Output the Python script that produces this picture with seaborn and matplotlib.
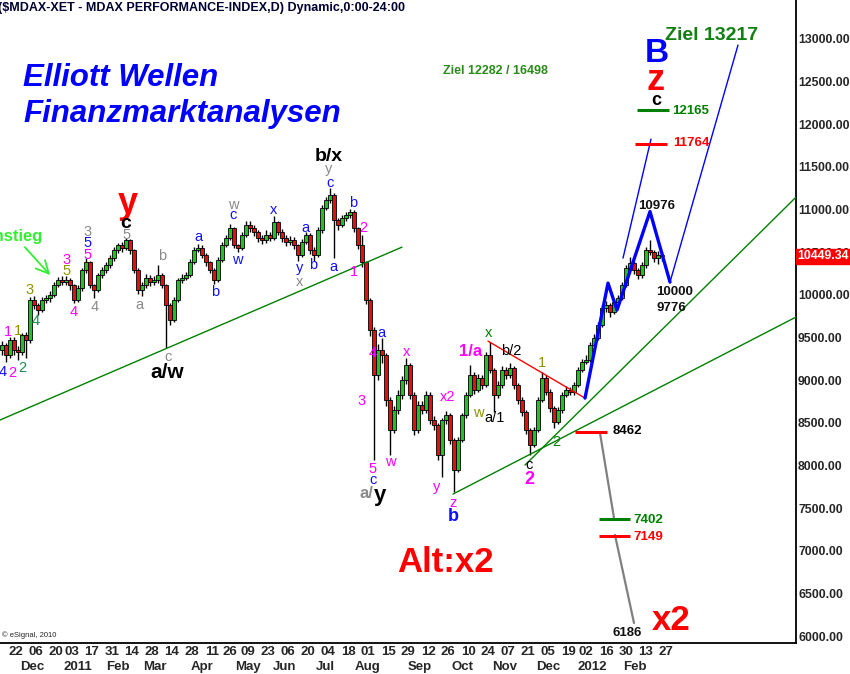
import numpy as np
import pandas as pd
import seaborn as sns
import matplotlib
matplotlib.use("Agg")
import matplotlib.pyplot as plt

# MDAX, candles of two trading days each (Nov 2010 - Feb 2012)
opens = [9350, 9411, 9293, 9469, 9352, 9328, 9528, 9469, 9938, 9879,
         9821, 9938, 9961, 9997, 10114, 10172, 10149, 10172, 10114, 9938,
         10079, 10290, 10383, 10114, 10055, 10231, 10290, 10348, 10430, 10524,
         10583, 10547, 10641, 10524, 10290, 10055, 10114, 10196, 10149, 10172,
         10231, 10114, 9879, 9704, 9938, 10172, 10196, 10231, 10383, 10524,
         10547, 10465, 10383, 10290, 10172, 10407, 10583, 10665, 10782, 10583,
         10547, 10700, 10817, 10782, 10735, 10665, 10641, 10700, 10665, 10852,
         10735, 10665, 10618, 10641, 10583, 10465, 10618, 10700, 10524, 10465,
         10758, 11016, 11110, 11169, 10876, 10817, 10899, 10934, 10969, 10782,
         10583, 10383, 9938, 9586, 9059, 9352, 9293, 8766, 8414, 8649,
         8825, 9000, 9176, 8825, 8414, 8707, 8649, 8825, 8532, 8473,
         8121, 8532, 8590, 8297, 7946, 8297, 8590, 8825, 9059, 8883,
         9024, 8942, 9293, 9118, 8825, 8942, 9118, 9059, 9141, 8942,
         8766, 8625, 8414, 8239, 8414, 8766, 9024, 8860, 8672, 8508,
         8649, 8825, 8883, 8860, 8942, 9118, 9211, 9235, 9411, 9493,
         9645, 9844, 9879, 9797, 9914, 9961, 10114, 10313, 10372, 10290,
         10231, 10348, 10524, 10500, 10430, 10465]
highs = [9460, 9440, 9500, 9500, 9400, 9550, 9560, 9980, 9990, 9900,
         9970, 10000, 10040, 10150, 10210, 10220, 10220, 10200, 10130, 10110,
         10320, 10430, 10400, 10130, 10260, 10330, 10390, 10470, 10560, 10610,
         10620, 10670, 10660, 10540, 10310, 10150, 10240, 10230, 10220, 10350,
         10260, 10130, 9900, 9970, 10200, 10240, 10270, 10420, 10560, 10600,
         10580, 10490, 10400, 10310, 10440, 10620, 10700, 10830, 10800, 10600,
         10740, 10860, 10870, 10820, 10760, 10700, 10760, 10740, 10920, 10870,
         10770, 10700, 10690, 10680, 10600, 10660, 10740, 10720, 10560, 10790,
         11050, 11150, 11250, 11190, 10900, 10940, 10970, 11000, 10990, 10800,
         10700, 10400, 9960, 9620, 9420, 9490, 9320, 8800, 8700, 8880,
         9050, 9260, 9200, 8860, 8760, 8760, 8870, 8860, 8580, 8500,
         8560, 8640, 8620, 8320, 8330, 8620, 8860, 9180, 9090, 9070,
         9060, 9330, 9450, 9140, 8990, 9160, 9150, 9200, 9170, 8970,
         8800, 8650, 8440, 8450, 8800, 9090, 9060, 8890, 8700, 8690,
         8860, 8930, 8920, 8980, 9150, 9250, 9290, 9450, 9540, 9680,
         9880, 9930, 9900, 9950, 10000, 10150, 10350, 10440, 10400, 10320,
         10380, 10560, 10640, 10530, 10510, 10500]
lows = [9300, 9210, 9260, 9300, 9230, 9300, 9260, 9440, 9830, 9760,
        9800, 9900, 9920, 9970, 10090, 10110, 10110, 10060, 9900, 9910,
        10050, 10260, 10080, 9960, 10030, 10200, 10260, 10320, 10400, 10490,
        10500, 10520, 10480, 10250, 10010, 9990, 10080, 10100, 10110, 10140,
        10080, 9380, 9650, 9680, 9910, 10140, 10170, 10210, 10360, 10500,
        10430, 10340, 10250, 10130, 10150, 10380, 10560, 10640, 10550, 10500,
        10520, 10680, 10740, 10690, 10620, 10600, 10610, 10630, 10640, 10700,
        10620, 10570, 10580, 10540, 10400, 10440, 10590, 10480, 10400, 10440,
        10730, 10990, 11080, 10430, 10760, 10790, 10860, 10900, 10740, 10540,
        10330, 9890, 9520, 8060, 9000, 9200, 8700, 8120, 8380, 8600,
        8780, 8960, 8780, 8360, 8380, 8600, 8610, 8490, 8420, 8060,
        7860, 8480, 8250, 7690, 7920, 8270, 8560, 8800, 8840, 8860,
        8900, 8920, 9080, 8630, 8790, 8910, 9010, 9030, 8900, 8720,
        8580, 8370, 8120, 8210, 8390, 8740, 8820, 8630, 8440, 8480,
        8620, 8800, 8820, 8830, 8920, 9090, 9190, 9210, 9390, 9470,
        9620, 9800, 9740, 9770, 9880, 9940, 10090, 10290, 10240, 10190,
        10200, 10320, 10470, 10390, 10360, 10400]
closes = [9411, 9293, 9469, 9352, 9328, 9528, 9469, 9938, 9879, 9821,
          9938, 9961, 9997, 10114, 10172, 10149, 10172, 10114, 9938, 10079,
          10290, 10383, 10114, 10055, 10231, 10290, 10348, 10430, 10524, 10583,
          10547, 10641, 10524, 10290, 10055, 10114, 10196, 10149, 10172, 10231,
          10114, 9879, 9704, 9938, 10172, 10196, 10231, 10383, 10524, 10547,
          10465, 10383, 10290, 10172, 10407, 10583, 10665, 10782, 10583, 10547,
          10700, 10817, 10782, 10735, 10665, 10641, 10700, 10665, 10852, 10735,
          10665, 10618, 10641, 10583, 10465, 10618, 10700, 10524, 10465, 10758,
          11016, 11110, 11169, 10876, 10817, 10899, 10934, 10969, 10782, 10583,
          10383, 9938, 9586, 9059, 9352, 9293, 8766, 8414, 8649, 8825,
          9000, 9176, 8825, 8414, 8707, 8649, 8825, 8532, 8473, 8121,
          8532, 8590, 8297, 7946, 8297, 8590, 8825, 9059, 8883, 9024,
          8942, 9293, 9118, 8825, 8942, 9118, 9059, 9141, 8942, 8766,
          8625, 8414, 8239, 8414, 8766, 9024, 8860, 8672, 8508, 8649,
          8825, 8883, 8860, 8942, 9118, 9211, 9235, 9411, 9493, 9645,
          9844, 9879, 9797, 9914, 9961, 10114, 10313, 10372, 10290, 10231,
          10348, 10524, 10500, 10430, 10465, 10449.34]
last_price = 10449.34

# x axis: trading days since 22 Nov 2010
tick_days = [0, 10, 20, 28, 38, 48, 58, 68, 78, 88, 98, 107, 116, 126, 136, 146, 156,
             166, 176, 186, 196, 206, 216, 226, 236, 246, 256, 266, 276, 285, 295, 305, 315, 325]
tick_labels = ["22", "06", "20", "03", "17", "31", "14", "28", "14", "28", "11", "26", "09",
               "23", "06", "20", "04", "18", "01", "15", "29", "12", "26", "10", "24", "07",
               "21", "05", "19", "02", "16", "30", "13", "27"]
month_days = [8, 31, 51, 69.5, 93, 116, 134.5, 154.5, 176, 202, 223, 244.5, 266, 288, 309.5]
month_labels = ["Dec", "2011", "Feb", "Mar", "Apr", "May", "Jun", "Jul", "Aug", "Sep",
                "Oct", "Nov", "Dec", "2012", "Feb"]
price_ticks = list(range(6000, 13001, 500))

# drawn analysis lines (day, price)
trend_a = ([-8, 193], [8532, 10559])
trend_b = ([218.5, 390], [7664, 9739])
trend_c = ([254.5, 390], [8004, 11145])
red_line = ([236, 284.5], [9457, 8789])
blue_path = ([284.5, 296, 300.5, 317, 327], [8789, 10137, 9821, 10976, 10149])
blue_right = ([327, 361], [10149, 12927])
blue_left = ([303.5, 317.5], [10430, 11825])
grey_a = ([292, 299], [8380, 7383])
grey_b = ([299.5, 309], [7184, 6152])
levels = [(310.5, 326.5, 12165, "#008000"), (309.5, 325.5, 11764, "#ff0000"),
          (279.5, 295.5, 8390, "#ff0000"), (291.5, 307, 7375, "#008000"),
          (291.5, 307, 7170, "#ff0000")]

MAG, BLU, GRY, OLV, GRN, TEAL = "#ff00ff", "#1010ff", "#8a8a8a", "#8c9400", "#008000", "#1e8a50"
wave_labels = [
    ("4", -6.5, 9094, BLU, 10.5), ("2", -2, 9082, MAG, 10.5), ("1", -4, 9563, MAG, 10.5),
    ("1", 1, 9575, OLV, 10.5), ("2", 3, 9141, TEAL, 10.5), ("3", 7, 10055, OLV, 10.5),
    ("4", 10, 9692, TEAL, 10.5), ("3", 25.5, 10407, MAG, 10.5), ("5", 25.5, 10278, OLV, 10.5),
    ("4", 29, 9797, MAG, 10.5), ("3", 36, 10735, GRY, 10.5), ("5", 36, 10606, BLU, 10.5),
    ("5", 36, 10465, MAG, 10.5), ("4", 39.5, 9856, GRY, 10.5), ("5", 55.5, 10700, GRY, 10.5),
    ("a", 61.5, 9879, GRY, 10.5), ("b", 73, 10454, GRY, 10.5), ("c", 76, 9270, GRY, 10.5),
    ("a", 91, 10676, BLU, 10.5), ("b", 99.5, 10032, BLU, 10.5), ("w", 108.5, 11051, GRY, 10.5),
    ("c", 108.5, 10934, BLU, 10.5), ("w", 110.5, 10407, BLU, 10.5), ("x", 129, 10993, BLU, 10.5),
    ("y", 142, 10313, BLU, 10.5), ("x", 142, 10149, GRY, 10.5), ("a", 144.5, 10782, BLU, 10.5),
    ("b", 148.5, 10348, BLU, 10.5), ("y", 156.5, 11473, GRY, 10.5), ("c", 157, 11309, BLU, 10.5),
    ("a", 158.5, 10325, BLU, 10.5), ("b", 168.5, 11075, BLU, 10.5), ("2", 173.5, 10782, MAG, 10.5),
    ("1", 169, 10266, MAG, 10.5), ("a", 182.5, 9551, BLU, 10.5), ("4", 178.5, 9317, MAG, 10.5),
    ("3", 173, 8754, MAG, 10.5), ("5", 178.5, 7957, MAG, 10.5), ("c", 178.5, 7828, BLU, 10.5),
    ("x", 195.5, 9328, MAG, 10.5), ("w", 187, 8039, MAG, 10.5), ("x2", 216, 8801, MAG, 10.5),
    ("y", 210.5, 7746, MAG, 10.5), ("z", 218.5, 7559, MAG, 10.5), ("x", 236.5, 9551, GRN, 10.5),
    ("b/2", 247.5, 9340, "black", 10.5), ("w", 231, 8614, OLV, 10.5), ("a/1", 239.5, 8555, "black", 10.5),
    ("1", 263, 9200, OLV, 10.5), ("c", 256.5, 8004, "black", 10.5), ("2", 270, 8274, GRN, 10.5),
]
big_labels = [
    ("y", 56, 11075, "#ff0000", 26), ("c", 55, 10840, "black", 14), ("a/w", 75.5, 9094, "black", 15),
    ("b/x", 156.5, 11626, "black", 14), ("a/", 175, 7676, GRY, 12), ("y", 182, 7653, "black", 16),
    ("b", 218.5, 7406, BLU, 13), ("1/a", 227.5, 9340, MAG, 12), ("2", 256.5, 7840, MAG, 13),
    ("B", 320.5, 12833, "#0000ff", 24), ("z", 320, 12516, "#ff0000", 26), ("c", 320, 12282, "black", 13),
    ("Ziel 13217", 348, 13044, "#118011", 14), ("Ziel 12282 / 16498", 239.5, 12622, "#2a8a1a", 9),
    ("Alt:x2", 214.5, 6856, "#ff0000", 25), ("x2", 327.5, 6176, "#ff0000", 25),
]
level_texts = [
    ("12165", 328, 12150, "#008000"), ("11764", 328.5, 11780, "#ff0000"),
    ("8462", 298.5, 8400, "black"), ("7402", 308.5, 7365, "#008000"), ("7149", 308.5, 7160, "#ff0000"),
]
price_texts = [("10976", 320.5, 11040), ("10000", 329.5, 10032), ("9776", 327.5, 9844), ("6186", 305.5, 6030)]

sns.set_style("white")
plt.rcParams["font.family"] = ["Liberation Sans", "DejaVu Sans"]

fig = plt.figure(figsize=(8.5, 6.74), dpi=100)
ax = fig.add_axes([0, 31 / 674, 796 / 850, 643 / 674])

df = pd.DataFrame({"open": opens, "high": highs, "low": lows, "close": closes})
df["day"] = 2 * np.arange(len(df)) - 7
df["bottom"] = df[["open", "close"]].min(axis=1)
df["height"] = (df["close"] - df["open"]).abs().clip(lower=12)
df["color"] = np.where(df["close"] >= df["open"], "#22c022", "#dd1111")

ax.vlines(df["day"], df["low"], df["high"], color="black", lw=1.0, zorder=2)
ax.bar(df["day"], df["height"], bottom=df["bottom"], width=1.8, color=df["color"],
       edgecolor="black", linewidth=0.6, zorder=3)

def draw(line, color, lw, ls="-"):
    sns.lineplot(x=line[0], y=line[1], ax=ax, color=color, lw=lw, ls=ls,
                 sort=False, estimator=None, legend=False, zorder=4)

draw(trend_a, "#008000", 1.0)
draw(trend_b, "#008000", 1.0)
draw(trend_c, "#008000", 1.0)
draw(red_line, "#ff0000", 1.0)
draw(blue_path, "#0000ff", 2.4)
draw(blue_right, "#0000ff", 1.0)
draw(blue_left, "#0000ff", 1.0)
draw(grey_a, "#808080", 1.6)
draw(grey_b, "#808080", 1.6)
for x0, x1, y, col in levels:
    ax.hlines(y, x0, x1, color=col, lw=2.2, zorder=4)

for txt, x, y, col, fs in wave_labels:
    ax.text(x, y, txt, color=col, fontsize=fs, ha="center", va="center", zorder=5)
for txt, x, y, col, fs in big_labels:
    ax.text(x, y, txt, color=col, fontsize=fs, fontweight="bold", ha="center", va="center", zorder=5)
for txt, x, y, col in level_texts:
    ax.text(x, y, txt, color=col, fontsize=9.5, fontweight="bold", ha="left", va="center", zorder=5)
for txt, x, y in price_texts:
    ax.text(x, y, txt, color="#111111", fontsize=9.5, fontweight="bold", ha="center", va="center", zorder=5)

ax.text(3.5, 12540, "Elliott Wellen", color="#0000ff", fontsize=22.5, fontweight="heavy",
        fontstyle="italic", ha="left", va="center")
ax.text(3.5, 12118, "Finanzmarktanalysen", color="#0000ff", fontsize=22.5, fontweight="heavy",
        fontstyle="italic", ha="left", va="center")
ax.text(13.5, 10688, "Einstieg", color="#33ee33", fontsize=12, fontweight="bold",
        ha="right", va="center", clip_on=True)
ax.annotate("", xy=(18, 10207), xytext=(3.5, 10583),
            arrowprops=dict(arrowstyle="->,head_length=0.9,head_width=0.45", color="#33ee33", lw=1.3))
ax.text(-0.002, 0.988, "($MDAX-XET - MDAX PERFORMANCE-INDEX,D) Dynamic,0:00-24:00",
        transform=ax.transAxes, color="#000030", fontsize=9, fontweight="bold", ha="left", va="center")
ax.text(0.002, 0.012, "\u00a9 eSignal, 2010", transform=ax.transAxes, fontsize=5.5, ha="left", va="center")

ax.set_xlim(-8, 390)
ax.set_ylim(5918, 13456)
ax.set_xticks(tick_days, tick_labels)
ax.yaxis.tick_right()
ax.set_yticks(price_ticks, [f"{v:.2f}" for v in price_ticks])
ax.tick_params(axis="x", length=0, pad=2, labelsize=9.5)
ax.tick_params(axis="y", length=0, pad=1.5, labelsize=8.8)
for lab in ax.get_xticklabels() + ax.get_yticklabels():
    lab.set_fontweight("bold")
for d, m in zip(month_days, month_labels):
    ax.text(d, -0.037, m, transform=ax.get_xaxis_transform(), ha="center", va="center",
            fontsize=9.5, fontweight="bold", clip_on=False)

ax.text(1.002, last_price, f"{last_price:.2f}", transform=ax.get_yaxis_transform(), color="white",
        fontsize=8.8, fontweight="bold", ha="left", va="center",
        bbox=dict(facecolor="#ff0000", edgecolor="#ff0000", pad=1.0), clip_on=False)

for side in ["top", "left"]:
    ax.spines[side].set_visible(False)
for side in ["right", "bottom"]:
    ax.spines[side].set_color("black")
    ax.spines[side].set_linewidth(1.3)
ax.set_xlabel("")
ax.set_ylabel("")

fig.savefig("out.png", dpi=100)
